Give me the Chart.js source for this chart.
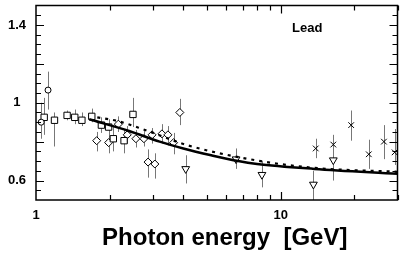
<!DOCTYPE html>
<html>
<head>
<meta charset="utf-8">
<script src="https://cdn.jsdelivr.net/npm/chart.js@4/dist/chart.umd.min.js"></script>
<style>
  html, body { margin: 0; padding: 0; background: #fff; }
</style>
</head>
<body>
<canvas id="chart" width="403" height="253"></canvas>
<script>
// Ratios vs photon energy (GeV)
const circleE  = [1.05, 1.12];
const circleR  = [0.90, 1.065];
const circleLo = [0.815, 0.965];
const circleHi = [1.0, 1.16];

const squareE  = [1.08, 1.19, 1.34, 1.44, 1.54, 1.69, 1.85, 1.98, 2.07, 2.29, 2.49];
const squareR  = [0.925, 0.91, 0.935, 0.925, 0.91, 0.93, 0.885, 0.875, 0.815, 0.805, 0.94];
const squareLo = [0.835, 0.775, 0.91, 0.89, 0.88, 0.90, 0.845, 0.825, 0.75, 0.74, 0.875];
const squareHi = [1.025, 0.95, 0.96, 0.965, 0.95, 0.97, 0.925, 0.915, 0.875, 0.86, 1.025];

const diamondE  = [1.77, 1.98, 2.17, 2.36, 2.56, 2.76, 2.87, 2.98, 3.06, 3.27, 3.46, 3.65, 3.87];
const diamondR  = [0.805, 0.795, 0.89, 0.835, 0.815, 0.815, 0.695, 0.835, 0.685, 0.84, 0.835, 0.795, 0.95];
const diamondLo = [0.75, 0.74, 0.85, 0.79, 0.77, 0.775, 0.615, 0.79, 0.61, 0.79, 0.78, 0.735, 0.885];
const diamondHi = [0.85, 0.865, 0.93, 0.88, 0.86, 0.855, 0.76, 0.87, 0.74, 0.89, 0.88, 0.845, 1.02];

const triE  = [4.09, 6.57, 8.38, 13.6, 16.4];
const triR  = [0.66, 0.71, 0.63, 0.58, 0.705];
const triLo = [0.585, 0.66, 0.565, 0.5, 0.60];
const triHi = [0.73, 0.765, 0.70, 0.65, 0.775];

const crossE  = [13.9, 16.4, 19.4, 22.9, 26.4, 29.2];
const crossR  = [0.765, 0.785, 0.885, 0.735, 0.80, 0.745];
const crossLo = [0.715, 0.70, 0.805, 0.66, 0.71, 0.68];
const crossHi = [0.815, 0.835, 0.96, 0.81, 0.885, 0.865];

// model curves
const solidE = [1.65, 2.4, 3.2, 4.0, 5.2, 6.7, 8.0, 13.7, 30];
const solidR = [0.915, 0.855, 0.80, 0.765, 0.73, 0.70, 0.685, 0.66, 0.635];
const dotE   = [1.78, 2.17, 2.79, 4.2, 7.85, 13.7, 30];
const dotR   = [0.925, 0.905, 0.86, 0.78, 0.705, 0.665, 0.645];

// axis ticks
const xLabels = [1, 10];
const xMinor  = [2, 3, 4, 5, 6, 7, 8, 9, 20, 30];
const xMajor  = [10];
const yLabels = [0.6, 1, 1.4];
const yMajor  = [0.6, 0.8, 1.0, 1.2, 1.4];
const yMinor  = [0.55, 0.65, 0.7, 0.75, 0.85, 0.9, 0.95, 1.05, 1.1, 1.15, 1.25, 1.3, 1.35, 1.45];

const xTitle = 'Photon energy  [GeV]';
const FONT = "'Liberation Sans', Arial, Helvetica, sans-serif";

function pts(xs, ys) {
    return xs.map((x, i) => ({ x: x, y: ys[i] }));
}

function markerSet(xs, ys, lo, hi, style, radius, rotation) {
    return {
        type: 'scatter',
        data: pts(xs, ys),
        errLo: lo,
        errHi: hi,
        pointStyle: style,
        pointRadius: radius,
        pointRotation: rotation || 0,
        pointBorderColor: '#000',
        pointBackgroundColor: '#fff',
        pointBorderWidth: 1,
    };
}

// error bars drawn under the markers
const errorBars = {
    id: 'errorBars',
    beforeDatasetsDraw(chart) {
        const { ctx, chartArea, scales: { x, y } } = chart;
        ctx.save();
        ctx.beginPath();
        ctx.rect(chartArea.left, chartArea.top, chartArea.right - chartArea.left, chartArea.bottom - chartArea.top);
        ctx.clip();
        ctx.strokeStyle = '#777';
        ctx.lineWidth = 1;
        chart.data.datasets.forEach(ds => {
            if (!ds.errLo) return;
            ds.data.forEach((p, i) => {
                const px = Math.round(x.getPixelForValue(p.x)) + 0.5;
                ctx.beginPath();
                ctx.moveTo(px, y.getPixelForValue(ds.errHi[i]));
                ctx.lineTo(px, y.getPixelForValue(ds.errLo[i]));
                ctx.stroke();
            });
        });
        ctx.restore();
    }
};

// frame, inward tick marks, axis title and the "Lead" tag
const frame = {
    id: 'frame',
    afterDraw(chart) {
        const { ctx, chartArea: a, scales: { x, y } } = chart;
        ctx.save();
        ctx.strokeStyle = '#000';
        ctx.lineWidth = 1.5;
        ctx.strokeRect(a.left, a.top, a.right - a.left, a.bottom - a.top);

        ctx.lineWidth = 1.2;
        const hTick = (v, len) => {
            const py = Math.round(y.getPixelForValue(v)) + 0.5;
            ctx.beginPath();
            ctx.moveTo(a.left, py); ctx.lineTo(a.left + len, py);
            ctx.moveTo(a.right, py); ctx.lineTo(a.right - len, py);
            ctx.stroke();
        };
        const vTick = (v, len) => {
            const px = Math.round(x.getPixelForValue(v)) + 0.5;
            ctx.beginPath();
            ctx.moveTo(px, a.bottom); ctx.lineTo(px, a.bottom - len);
            ctx.moveTo(px, a.top); ctx.lineTo(px, a.top + len);
            ctx.stroke();
        };
        yMinor.forEach(v => hTick(v, 5));
        yMajor.forEach(v => hTick(v, 8));
        xMinor.forEach(v => vTick(v, 5));
        xMajor.forEach(v => vTick(v, 8));

        ctx.fillStyle = '#000';
        ctx.font = 'bold 13px ' + FONT;
        ctx.textBaseline = 'alphabetic';
        ctx.fillText('Lead', a.left + 256, a.top + 26);

        // axis title sits a little right of the plot centre
        ctx.font = 'bold 24px ' + FONT;
        ctx.textAlign = 'center';
        ctx.fillText(xTitle, (a.left + a.right) / 2 + 8, a.bottom + 45);
        ctx.restore();
    }
};

new Chart(document.getElementById('chart'), {
    type: 'scatter',
    data: {
        datasets: [
            {
                type: 'line',
                data: pts(solidE, solidR),
                borderColor: '#000',
                borderWidth: 2.5,
                pointRadius: 0,
                cubicInterpolationMode: 'monotone',
                fill: false,
            },
            {
                type: 'line',
                data: pts(dotE, dotR),
                borderColor: '#000',
                borderWidth: 2.2,
                borderDash: [3, 5],
                pointRadius: 0,
                cubicInterpolationMode: 'monotone',
                fill: false,
            },
            markerSet(circleE, circleR, circleLo, circleHi, 'circle', 3),
            markerSet(squareE, squareR, squareLo, squareHi, 'rect', 4.5),
            markerSet(diamondE, diamondR, diamondLo, diamondHi, 'rectRot', 4),
            markerSet(triE, triR, triLo, triHi, 'triangle', 4.5, 180),
            markerSet(crossE, crossR, crossLo, crossHi, 'crossRot', 4),
        ],
    },
    options: {
        responsive: false,
        animation: false,
        layout: { padding: { top: 1, right: 2, left: 0, bottom: 0 } },
        plugins: {
            legend: { display: false },
            tooltip: { enabled: false },
        },
        scales: {
            x: {
                type: 'logarithmic',
                min: 1,
                max: 30,
                grid: { display: false, drawTicks: false },
                border: { display: false },
                afterBuildTicks: s => { s.ticks = xLabels.map(v => ({ value: v })); },
                afterFit: s => { s.height = 53; s.paddingLeft = 0; s.paddingRight = 0; },
                ticks: {
                    color: '#000',
                    font: { family: FONT, weight: 'bold', size: 13 },
                    padding: 8,
                    maxRotation: 0,
                    autoSkip: false,
                    callback: v => String(v),
                },
            },
            y: {
                min: 0.5,
                max: 1.5,
                grid: { display: false, drawTicks: false },
                border: { display: false },
                afterBuildTicks: s => { s.ticks = yLabels.map(v => ({ value: v })); },
                afterFit: s => { s.width = 36; s.paddingTop = 0; s.paddingBottom = 0; },
                ticks: {
                    color: '#000',
                    font: { family: FONT, weight: 'bold', size: 13 },
                    padding: 10,
                    crossAlign: 'center',
                    callback: v => String(v),
                },
            },
        },
    },
    plugins: [errorBars, frame],
});
</script>
</body>
</html>
